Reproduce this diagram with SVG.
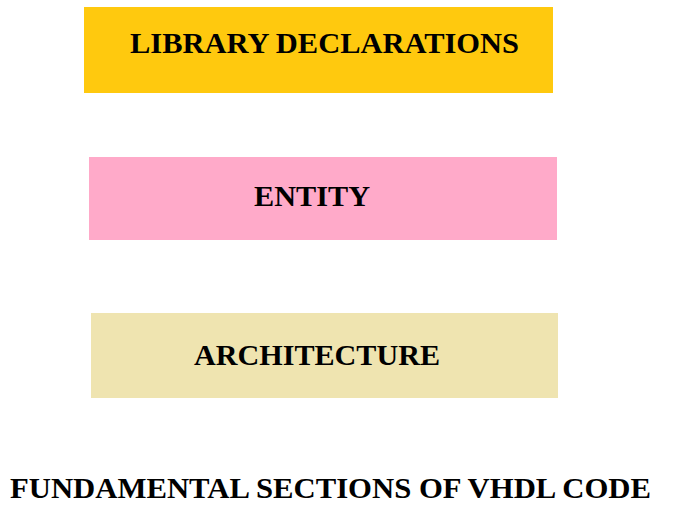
<svg xmlns="http://www.w3.org/2000/svg" width="686" height="513" viewBox="0 0 686 513">
<style>
text{font-family:"Liberation Serif","Times New Roman",serif;font-weight:bold;font-size:30px;fill:#000}
</style>
<rect x="0" y="0" width="686" height="513" fill="#fff"/>
<g id="library">
<rect x="84" y="7" width="469" height="86" fill="#FFC90E"/>
<text x="130" y="53" textLength="389" lengthAdjust="spacingAndGlyphs">LIBRARY DECLARATIONS</text>
</g>
<g id="entity">
<rect x="89" y="157" width="468" height="83" fill="#FFAAC9"/>
<text x="254" y="206" textLength="116" lengthAdjust="spacingAndGlyphs">ENTITY</text>
</g>
<g id="architecture">
<rect x="91" y="313" width="467" height="85" fill="#EFE4B0"/>
<text x="194" y="365" textLength="246" lengthAdjust="spacingAndGlyphs">ARCHITECTURE</text>
</g>
<g id="connectors"></g>
<g id="title">
<text x="10" y="498" textLength="641" lengthAdjust="spacingAndGlyphs">FUNDAMENTAL SECTIONS OF VHDL CODE</text>
</g>
</svg>
